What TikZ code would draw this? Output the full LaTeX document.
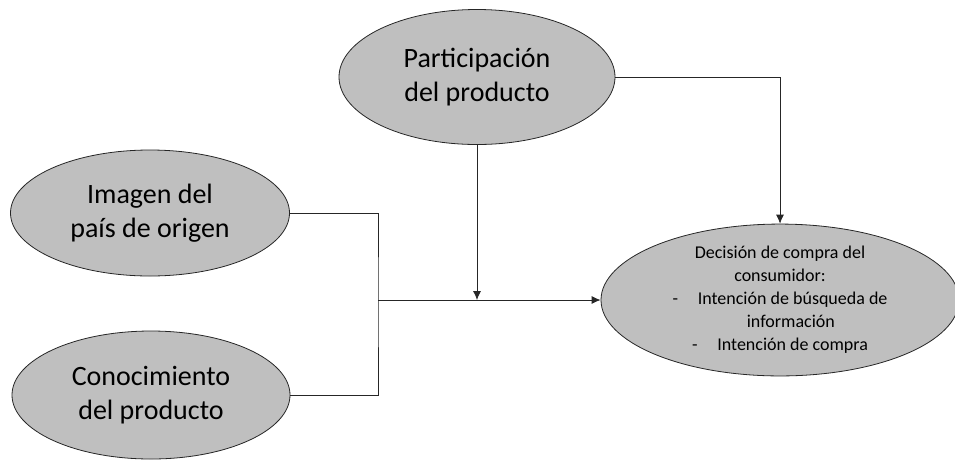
\documentclass[tikz,border=0pt]{standalone}
\usepackage{fontspec}
\setmainfont{Carlito}
\usetikzlibrary{shapes.geometric,arrows.meta}
\definecolor{ovalfill}{HTML}{BFBFBF}
\definecolor{inkline}{HTML}{262626}
\tikzset{
  oval/.style={ellipse, draw=inkline, line width=0.8pt, fill=ovalfill, inner sep=0pt,
    align=center, font=\fontsize{28}{34}\selectfont},
  link/.style={draw=inkline, line width=0.8pt},
  arrowlink/.style={link, -{Latex[length=9pt,width=8pt]}}
}
\begin{document}
\begin{tikzpicture}[x=1pt,y=-1pt]
  \useasboundingbox (0,0) rectangle (955,459);

  \node[oval, minimum width=276, minimum height=135] (part) at (477,77)
    {Participación\\del producto};
  \node[oval, minimum width=279, minimum height=126] (imagen) at (150,213)
    {Imagen del\\país de origen};
  \node[oval, minimum width=278, minimum height=128] (conoc) at (151,395)
    {Conocimiento\\del producto};
  \node[oval, minimum width=358, minimum height=134,
        font=\fontsize{18}{23}\selectfont] (dec) at (780,300)
    {Decisión de compra del\\consumidor:\\-\hspace{1.1em}Intención de búsqueda de\\\hspace*{1.2em}información\\-\hspace{1.1em}Intención de compra};

  \coordinate (join) at (378,300);
  \coordinate (meet) at (477,300);

  \draw[link] (imagen.east) -| (join) |- (conoc.east);
  \draw[arrowlink] (join) -- (dec.west);
  \draw[arrowlink] (part.south) -- (meet);
  \draw[arrowlink] (part.east) -| (dec.north);
\end{tikzpicture}
\end{document}
